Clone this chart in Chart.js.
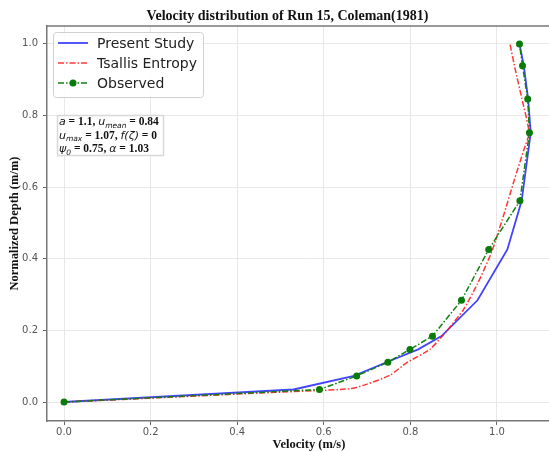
<!DOCTYPE html>
<html>
<head>
<meta charset="utf-8">
<script src="https://cdn.jsdelivr.net/npm/chart.js@4/dist/chart.umd.min.js"></script>
<style>
  html, body { margin: 0; padding: 0; background: #fff; overflow: hidden; }
  #wrap { width: 549px; height: 452px; overflow: hidden; }
</style>
</head>
<body>
<div id="wrap"><canvas id="velChart" width="575" height="452"></canvas></div>
<script>
// depths (normalized) and velocities
var depthObs = [0, 0.035, 0.073, 0.111, 0.147, 0.184, 0.284, 0.426, 0.562, 0.752, 0.846, 0.939, 1.0];
var velObs = [0, 0.59, 0.676, 0.748, 0.799, 0.851, 0.918, 0.981, 1.053, 1.075, 1.071, 1.059, 1.052];
var velPresent = [0, 0.53, 0.67, 0.745, 0.818, 0.872, 0.955, 1.024, 1.057, 1.078, 1.072, 1.062, 1.052];

var depthTsallis = [0, 0.012, 0.025, 0.037, 0.05, 0.075, 0.11, 0.147, 0.2, 0.257, 0.33, 0.42, 0.52, 0.62, 0.704, 0.752, 0.85, 0.93, 1.0];
var velTsallis = [0, 0.22, 0.45, 0.66, 0.70, 0.753, 0.792, 0.845, 0.885, 0.922, 0.955, 0.988, 1.015, 1.04, 1.062, 1.074, 1.057, 1.042, 1.03];

var xTicks = [0, 0.2, 0.4, 0.6, 0.8, 1.0];
var yTicks = [0, 0.2, 0.4, 0.6, 0.8, 1.0];

var seriesNames = ["Present Study", "Tsallis Entropy", "Observed"];

function toPoints(xs, ys) {
    return xs.map(function (v, i) { return { x: v, y: ys[i] }; });
}

// legend box + parameter box drawn inside the plot, plus the top spine
var boxesPlugin = {
    id: "boxes",
    afterDatasetsDraw: function (chart) {
        var ctx = chart.ctx;
        var area = chart.chartArea;
        ctx.save();
        // top spine
        ctx.strokeStyle = "#777";
        ctx.lineWidth = 1.5;
        ctx.beginPath();
        ctx.moveTo(area.left, area.top);
        ctx.lineTo(area.right, area.top);
        ctx.stroke();

        // legend
        ctx.fillStyle = "rgba(255,255,255,0.85)";
        ctx.strokeStyle = "#d0d0d0";
        ctx.lineWidth = 1;
        ctx.beginPath();
        ctx.roundRect(53.5, 32.5, 150, 65, 3);
        ctx.fill();
        ctx.stroke();
        chart.data.datasets.forEach(function (ds, i) {
            var y = 43 + i * 20;
            ctx.strokeStyle = ds.borderColor;
            ctx.lineWidth = ds.borderWidth;
            ctx.setLineDash(ds.borderDash || []);
            ctx.beginPath();
            ctx.moveTo(58, y);
            ctx.lineTo(88, y);
            ctx.stroke();
            ctx.setLineDash([]);
            if (ds.pointRadius > 0) {
                ctx.fillStyle = ds.pointBackgroundColor;
                ctx.beginPath();
                ctx.arc(73, y, ds.pointRadius, 0, Math.PI * 2);
                ctx.fill();
            }
            ctx.fillStyle = "#222";
            ctx.font = '14px "DejaVu Sans"';
            ctx.textBaseline = "middle";
            ctx.fillText(ds.label, 97, y + 1);
        });

        // parameter box
        ctx.fillStyle = "rgba(255,255,255,0.85)";
        ctx.strokeStyle = "#d8d8d8";
        ctx.beginPath();
        ctx.rect(57.5, 115.5, 106, 40);
        ctx.fill();
        ctx.stroke();
        var it = 'italic 11px "DejaVu Sans"';
        var bd = 'bold 11.5px "Liberation Serif"';
        var sb = 'italic 7.5px "DejaVu Sans"';
        var lines = [
            [["a", it], [" = 1.1, ", bd], ["u", it], ["mean", sb], [" = 0.84", bd]],
            [["u", it], ["max", sb], [" = 1.07, ", bd], ["f(\u03b6)", it], [" = 0", bd]],
            [["\u03c8", it], ["0", sb], [" = 0.75, ", bd], ["\u03b1", it], [" = 1.03", bd]]
        ];
        ctx.fillStyle = "#111";
        ctx.textBaseline = "alphabetic";
        lines.forEach(function (segs, li) {
            var x = 59;
            var y = 125 + li * 13.5;
            segs.forEach(function (s) {
                ctx.font = s[1];
                var dy = s[1] === sb ? 2.5 : 0;
                ctx.fillText(s[0], x, y + dy);
                x += ctx.measureText(s[0]).width;
            });
        });
        ctx.restore();
    }
};

var ctx = document.getElementById("velChart").getContext("2d");
var velChart = new Chart(ctx, {
    type: "line",
    data: {
        datasets: [{
            label: seriesNames[0],
            data: toPoints(velPresent, depthObs),
            borderColor: "rgba(20,20,255,0.8)",
            borderWidth: 1.8,
            pointRadius: 0,
            tension: 0,
            order: 3
        }, {
            label: seriesNames[1],
            data: toPoints(velTsallis, depthTsallis),
            borderColor: "rgba(255,20,20,0.85)",
            borderWidth: 1.5,
            borderDash: [6, 2, 1.5, 2],
            pointRadius: 0,
            tension: 0.2,
            order: 2
        }, {
            label: seriesNames[2],
            data: toPoints(velObs, depthObs),
            borderColor: "#108010",
            borderWidth: 1.5,
            borderDash: [6, 2, 1.5, 2],
            pointRadius: 3.5,
            pointBackgroundColor: "#0a7a0a",
            pointBorderColor: "#0a7a0a",
            pointBorderWidth: 0,
            tension: 0,
            order: 1
        }]
    },
    options: {
        responsive: false,
        animation: false,
        devicePixelRatio: 1,
        layout: { padding: 0 },
        plugins: {
            legend: { display: false },
            tooltip: { enabled: false },
            title: {
                display: true,
                text: "Velocity distribution of Run 15, Coleman(1981)",
                color: "#111",
                font: { family: "Liberation Serif", size: 14, weight: "bold", lineHeight: 1.2 },
                padding: { top: 8, bottom: 1.2 }
            }
        },
        scales: {
            x: {
                type: "linear",
                min: -0.0393,
                max: 1.171,
                afterBuildTicks: function (scale) {
                    scale.ticks = xTicks.map(function (v) { return { value: v }; });
                },
                afterFit: function (scale) { scale.height = 31; },
                ticks: {
                    color: "#555",
                    padding: 1,
                    font: { family: "DejaVu Sans", size: 10 },
                    callback: function (v) { return v.toFixed(1); }
                },
                grid: { color: "#e8e8e8", tickColor: "#666", tickLength: 4 },
                border: { color: "#777", width: 1.5 },
                title: {
                    display: true,
                    text: "Velocity (m/s)",
                    color: "#111",
                    font: { family: "Liberation Serif", size: 12.5, weight: "bold", lineHeight: 1.2 },
                    padding: { top: 0, bottom: 0 }
                }
            },
            y: {
                type: "linear",
                min: -0.053,
                max: 1.05,
                afterBuildTicks: function (scale) {
                    scale.ticks = yTicks.map(function (v) { return { value: v }; });
                },
                afterFit: function (scale) { scale.width = 47; },
                ticks: {
                    color: "#555",
                    padding: 5,
                    font: { family: "DejaVu Sans", size: 10 },
                    callback: function (v) { return v.toFixed(1); }
                },
                grid: { color: "#e8e8e8", tickColor: "#666", tickLength: 4 },
                border: { color: "#777", width: 1.5 },
                title: {
                    display: true,
                    text: "Normalized Depth (m/m)",
                    color: "#111",
                    font: { family: "Liberation Serif", size: 12.5, weight: "bold", lineHeight: 1.2 },
                    padding: { top: 7, bottom: 0 }
                }
            }
        }
    },
    plugins: [boxesPlugin]
});
</script>
</body>
</html>
